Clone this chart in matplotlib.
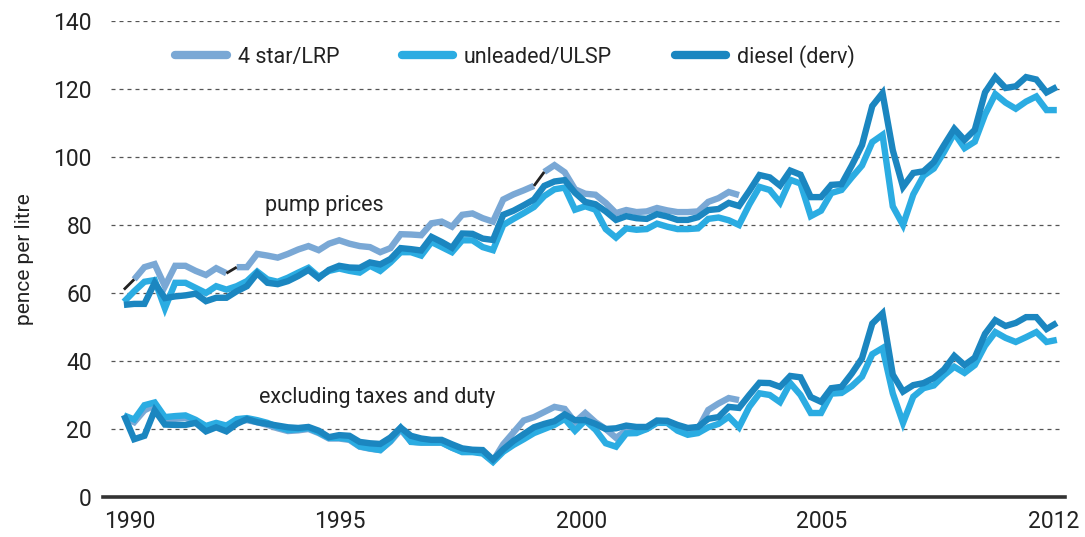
import numpy as np
import matplotlib
matplotlib.use("Agg")
import matplotlib.pyplot as plt
from matplotlib.lines import Line2D

plt.rcParams['font.family'] = ['Roboto', 'DejaVu Sans']

# quarterly periods, 1990 Q1 .. 2012 Q4
quarters = 1990 + np.arange(92) / 4.0

# ---- pump prices (pence per litre) ----
pump_4star = [61, 64, 67.6, 68.5, 62, 68, 68, 66.5, 65.3, 67.3,
              65.8, 67.6, 67.6, 71.5, 71, 70.4, 71.5, 72.8, 73.8, 72.6,
              74.5, 75.5, 74.5, 73.8, 73.5, 72, 73.2, 77.3, 77.2, 77,
              80.5, 81, 79.5, 83, 83.4, 82, 81, 87.5, 89, 90.2,
              91.5, 95.6, 97.6, 95.5, 90.5, 89.2, 88.9, 86.5, 83.5, 84.4,
              83.8, 84, 85, 84.3, 83.8, 83.8, 84, 86.8, 87.9, 89.7,
              88.8] + [np.nan] * 31
pump_unleaded = [57.4, 60.5, 63.3, 63.8, 55.5, 63, 63, 61.5, 60, 62,
                 61, 62, 63.5, 66.3, 64, 63.3, 64.5, 66, 67.4, 64.8,
                 66.5, 67.2, 66.5, 66, 68, 66.5, 69, 72, 72, 71,
                 75, 73.5, 72, 75.5, 75.5, 73.5, 72.6, 80, 81.8, 83.5,
                 85.3, 88.5, 90.5, 91, 84.5, 85.5, 84.5, 78.8, 76.3, 79,
                 78.6, 78.8, 80.4, 79.5, 78.8, 78.8, 79, 81.8, 82.2, 81.4,
                 80, 86, 91.2, 90.3, 86.6, 93.3, 92.2, 82.6, 84.2, 89.4,
                 90.3, 94, 97.5, 104.4, 106.5, 85.5, 80, 89, 94.5, 96.6,
                 101.5, 107, 102.6, 104.5, 112.5, 118.5, 116, 114.2, 116.3, 117.8,
                 113.8, 113.8]
pump_diesel = [56.5, 56.8, 56.8, 63, 58.5, 59, 59.3, 59.8, 57.6, 58.6,
               58.6, 60.5, 62, 65.8, 63, 62.6, 63.5, 65, 66.8, 64.4,
               66.8, 68, 67.5, 67.4, 69, 68.4, 70, 73.2, 72.9, 72.5,
               76.5, 75, 73.3, 77.5, 77.4, 76, 75.6, 83, 84.2, 85.8,
               87.5, 91.5, 92.8, 93.2, 89.5, 86.8, 86.1, 84, 81.5, 82.6,
               82, 81.8, 83.2, 82.5, 81.5, 81.5, 82.3, 84.4, 84.7, 86.5,
               85.6, 90, 94.7, 94, 91.6, 96, 94.8, 88.2, 88.2, 91.8,
               92, 97.5, 103.5, 115, 118.8, 102, 91.2, 95.3, 95.8, 98.5,
               103.5, 108.3, 105, 108, 119, 123.5, 120.3, 120.8, 123.5, 122.8,
               119, 120.6]

# ---- excluding taxes and duty ----
ex_4star = [23.5, 22, 25.5, 27, 22.8, 23, 23.3, 22.2, 20.5, 21.3,
            20.5, 22.3, 22.6, 22, 21.2, 20.2, 19.4, 19.6, 20, 18.8,
            17.2, 17.2, 16.8, 14.8, 14.2, 13.8, 16.3, 19.8, 16.3, 16,
            16, 16, 14.5, 13.4, 13.4, 13, 10.6, 15.5, 19, 22.5,
            23.5, 25, 26.5, 25.9, 22, 24.7, 22, 20, 17.4, 19.5,
            19.5, 20, 22, 22, 20, 19, 20, 25.6, 27.5, 29.1,
            28.5] + [np.nan] * 31
ex_unleaded = [24, 22.8, 27, 27.8, 23.5, 23.8, 24, 22.7, 20.9, 21.8,
               21, 22.9, 23.2, 22.6, 21.8, 20.6, 19.7, 19.9, 20.3, 19,
               17.4, 17.4, 17, 14.9, 14.3, 13.8, 16.5, 20.3, 16.2, 16,
               16, 16, 14.5, 13.2, 13.2, 12.8, 10.3, 13.3, 15.3, 17,
               18.8, 20, 21.2, 23, 19.5, 22.5, 19.8, 15.8, 14.8, 18.7,
               18.8, 20, 21.8, 21.8, 19.5, 18.3, 18.8, 20.5, 21.5, 23.6,
               20.5, 26.5, 30.5, 30, 27.9, 33.5, 30, 24.7, 24.7, 30.4,
               30.6, 32.6, 35.4, 42, 43.8, 30.5, 21.8, 29.5, 32, 32.8,
               35.8, 38.3, 36.5, 38.8, 44.5, 48.5, 46.8, 45.6, 47, 48.5,
               45.6, 46.2]
ex_diesel = [24.1, 17, 18, 25.5, 21.3, 21.2, 21.2, 21.8, 19.3, 20.5,
             19.3, 21.5, 22.9, 22, 21.5, 21, 20.5, 20.3, 20.6, 19.5,
             17.6, 18.2, 18, 16.2, 15.8, 15.6, 17.5, 20.4, 18, 17.2,
             16.8, 16.8, 15.5, 14.3, 13.9, 13.8, 11, 14, 16.5, 18.5,
             20.5, 21.5, 22.3, 24.3, 22.6, 22.6, 21.5, 20, 20.2, 21,
             20.6, 20.6, 22.5, 22.4, 21.2, 20.3, 20.6, 23, 23.5, 26.5,
             26.2, 30, 33.6, 33.5, 32.4, 35.6, 35.2, 29.4, 28, 32,
             32.4, 36.3, 40.8, 51, 54, 36, 31, 32.9, 33.5, 35,
             37.5, 41.5, 38.8, 41, 48, 52, 50.3, 51.2, 52.9, 52.9,
             49.4, 51.2]

# 4 star/LRP pump-price quarters where the series breaks (drawn as a thin black link)
link_starts = [0, 10, 40]

series_names = ["4 star/LRP", "unleaded/ULSP", "diesel (derv)"]
col_4star = "#7AA8D5"
col_unl = "#2BACE2"
col_dsl = "#1B86C0"
LW = 4.6

x_tick_pos = [1990.15, 1995.27, 2001.17, 2007.02, 2012.68]
x_tick_lab = ["1990", "1995", "2000", "2005", "2012"]
y_ticks = [0, 20, 40, 60, 80, 100, 120, 140]

fig = plt.figure(figsize=(10.85, 5.37), dpi=100)
ax = fig.add_axes([103 / 1085, 1 - 497 / 537, (1065 - 103) / 1085, (497 - 21) / 537])

for v in y_ticks[1:]:
    ax.axhline(v, xmin=0.008, xmax=0.9975, color="#555555", lw=0.9,
               ls=(0, (3.2, 3.2)), zorder=1)

kw = dict(lw=LW, solid_joinstyle="miter", solid_capstyle="butt", zorder=3)

# 4 star/LRP pump prices, split at the breaks
p4 = np.array(pump_4star, dtype=float)
bounds = [0] + [i + 1 for i in link_starts] + [len(p4)]
for s, e in zip(bounds[:-1], bounds[1:]):
    ax.plot(quarters[s:e], p4[s:e], color=col_4star, **kw)
for i in link_starts:
    ax.plot(quarters[i:i + 2], p4[i:i + 2], color="#222222", lw=2.0,
            solid_capstyle="butt", zorder=3.5)

ax.plot(quarters, ex_4star, color=col_4star, **kw)
for a, b, c in [(pump_unleaded, ex_unleaded, col_unl),
                (pump_diesel, ex_diesel, col_dsl)]:
    ax.plot(quarters, a, color=c, **kw)
    ax.plot(quarters, b, color=c, **kw)

ax.set_xlim(1989.49, 2012.95)
ax.set_ylim(0, 140)
ax.set_yticks(y_ticks)
ax.set_xticks(x_tick_pos)
ax.set_xticklabels(x_tick_lab)
ax.tick_params(axis="both", length=0, labelsize=16.5, colors="#222222")
ax.tick_params(axis="y", pad=8)
ax.tick_params(axis="x", pad=9)
for s in ["top", "right", "left"]:
    ax.spines[s].set_visible(False)
ax.spines["bottom"].set_linewidth(2.6)
ax.spines["bottom"].set_color("#333333")
ax.set_ylabel("pence per litre", fontsize=15, color="#222222", labelpad=14)

ax.text(1993.45, 85.6, "pump prices", fontsize=15.5, color="#222222", ha="left", va="center")
ax.text(1993.3, 29.2, "excluding taxes and duty", fontsize=15.5, color="#222222", ha="left", va="center")

handles = [Line2D([], [], color=c, lw=6, solid_capstyle="round")
           for c in [col_4star, col_unl, col_dsl]]
ax.legend(handles, series_names, loc="upper left", bbox_to_anchor=(0.055, 0.99),
          ncol=3, frameon=False, fontsize=15.5, handlelength=2.4, handletextpad=0.5,
          columnspacing=2.9, labelcolor="#222222")

fig.savefig("out.png", dpi=100)
